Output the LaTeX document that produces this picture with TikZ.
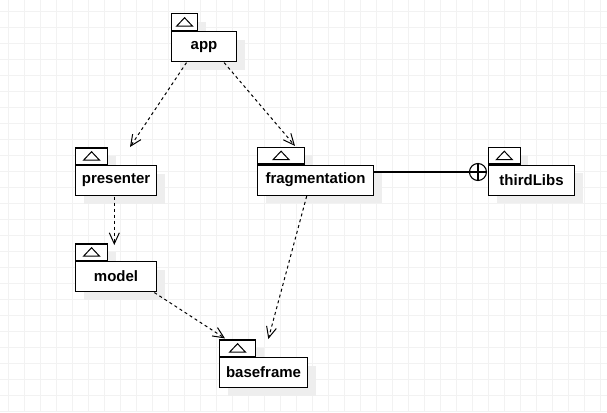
\documentclass[tikz,border=0pt]{standalone}
\usepackage{fontspec}
\setmainfont{Liberation Sans}
\usetikzlibrary{calc,shadows,arrows.meta}
\definecolor{gridc}{HTML}{F2F2F2}
\definecolor{shadowc}{HTML}{EEEEEE}
\tikzset{
  pkgshadow/.style={drop shadow={shadow xshift=8pt,shadow yshift=-8pt,fill=shadowc,opacity=1}},
  pkgtab/.style={draw=black,line width=1.1pt,fill=white,minimum height=16.5pt,inner sep=0pt,anchor=south west,pkgshadow},
  pkgbody/.style={draw=black,line width=1.1pt,fill=white,minimum height=30pt,inner sep=0pt,anchor=north west,
    font=\fontsize{15}{18}\selectfont\bfseries,pkgshadow},
  tri/.style={draw=black,line width=1pt},
  dep/.style={draw=black,line width=1pt,dash pattern=on 3pt off 3pt,-{Straight Barb[length=11pt,width=10pt,line width=1pt]}},
}
\newcommand{\pkgtri}[1]{\draw[tri] ($(#1.center)+(-8,4)$) -- ($(#1.center)+(8,4)$) -- ($(#1.center)+(0,-4.5)$) -- cycle;}
\begin{document}
\begin{tikzpicture}[x=1pt,y=-1pt]
\useasboundingbox (0,0) rectangle (607,412);
\foreach \gx in {8,24,...,600} \draw[gridc,line width=0.8pt] (\gx,0) -- (\gx,412);
\foreach \gy in {11.5,27.5,...,411.5} \draw[gridc,line width=0.8pt] (0,\gy) -- (607,\gy);

% app
\node[pkgtab,minimum width=26pt] (apptab) at (171,31) {};
\node[pkgbody,minimum width=65pt] (app) at (apptab.south west) {app};
\pkgtri{apptab}
% presenter
\node[pkgtab,minimum width=32pt] (presentertab) at (75,165) {};
\node[pkgbody,minimum width=81pt] (presenter) at (presentertab.south west) {presenter};
\pkgtri{presentertab}
% fragmentation
\node[pkgtab,minimum width=47pt] (fragtab) at (257,164.5) {};
\node[pkgbody,minimum width=116pt] (frag) at (fragtab.south west) {fragmentation};
\pkgtri{fragtab}
% thirdLibs
\node[pkgtab,minimum width=31.5pt] (thirdtab) at (488,164.5) {};
\node[pkgbody,minimum width=86pt] (third) at (thirdtab.south west) {thirdLibs};
\pkgtri{thirdtab}
% model
\node[pkgtab,minimum width=32pt] (modeltab) at (75,261) {};
\node[pkgbody,minimum width=81pt] (model) at (modeltab.south west) {model};
\pkgtri{modeltab}
% baseframe
\node[pkgtab,minimum width=36pt] (basetab) at (219,357) {};
\node[pkgbody,minimum width=88pt] (base) at (basetab.south west) {baseframe};
\pkgtri{basetab}

% nesting connector
\node[circle,draw=black,fill=white,line width=1.1pt,minimum size=17pt,inner sep=0pt,anchor=east] (ball) at ($(third.north west)+(-1,7.5)$) {};
\draw[line width=1.1pt] (ball.north) -- (ball.south) (ball.west) -- (ball.east);
\draw[line width=1.1pt] ($(frag.north east)+(0,7.5)$) -- (ball.west);

% dependencies
\draw[dep] ($(app.south west)+(15.5,0.5)$) -- ($(presenter.north west)+(55,-18)$);
\draw[dep] ($(app.south east)+(-13,0.5)$) -- ($(fragtab.north west)+(38,-1)$);
\draw[dep] ($(presenter.south west)+(39.3,0.5)$) -- ($(model.north west)+(39.3,-16)$);
\draw[dep] ($(model.south east)+(-2.7,0.5)$) -- ($(basetab.north west)+(6,-1)$);
\draw[dep] ($(frag.south west)+(49.7,0.5)$) -- ($(base.north west)+(49.3,-18)$);
\end{tikzpicture}
\end{document}
